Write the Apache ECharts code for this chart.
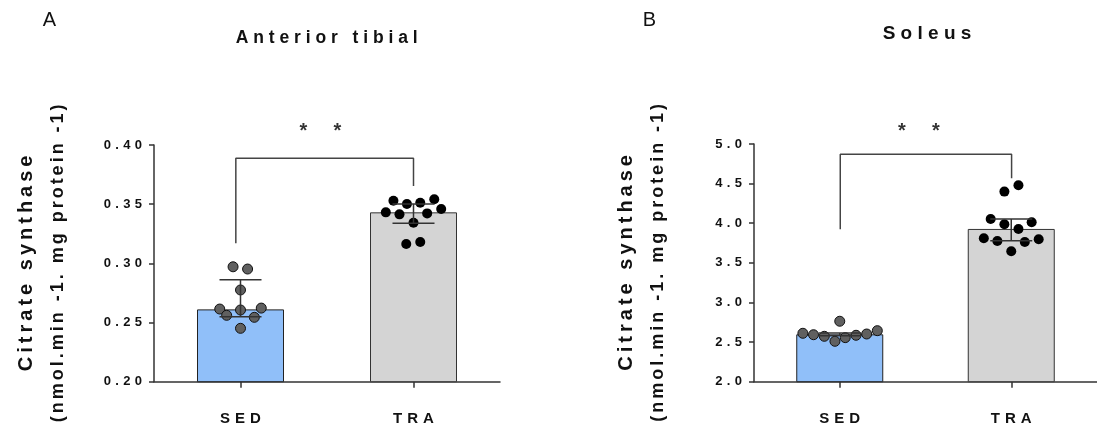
<!DOCTYPE html>
<html>
<head>
<meta charset="utf-8">
<script src="https://cdn.jsdelivr.net/npm/echarts@6/dist/echarts.min.js"></script>
<style>
  html, body { margin: 0; padding: 0; background: #fff; }
  #chart { width: 1097px; height: 432px; }
</style>
</head>
<body>
<div id="chart"></div>
<script>
// groups on the x axis
var groups = ['SED', 'TRA'];

// Anterior tibial (panel A)
var tibMeans = [0.2611, 0.3431];
var tibErrLow = [0.2549, 0.3338];
var tibErrHigh = [0.2862, 0.3501];
var tibSedX = [-0.043, 0.041, 0, -0.12, 0, 0.12, -0.08, 0.08, 0];
var tibSedY = [0.2971, 0.2952, 0.2775, 0.2614, 0.2606, 0.2622, 0.2561, 0.2544, 0.2451];
var tibTraX = [-0.116, -0.038, 0.039, 0.12, -0.16, -0.081, 0.079, 0.16, 0, -0.042, 0.039];
var tibTraY = [0.3529, 0.3501, 0.3512, 0.3541, 0.3431, 0.3414, 0.3422, 0.3459, 0.3343, 0.3163, 0.3181];
var tibBracketX = [-0.027, -0.027, 1, 1];
var tibBracketY = [0.3169, 0.3889, 0.3889, 0.3653];
var tibStarY = 0.411;

// Soleus (panel B)
var solMeans = [2.598, 3.928];
var solErrLow = [2.581, 3.780];
var solErrHigh = [2.615, 4.054];
var solSedX = [0, -0.215, -0.153, -0.09, -0.028, 0.032, 0.095, 0.157, 0.219];
var solSedY = [2.763, 2.611, 2.593, 2.573, 2.510, 2.556, 2.586, 2.602, 2.644];
var solTraX = [-0.04, 0.042, -0.12, -0.04, 0.119, 0.042, -0.16, -0.081, 0.079, 0.16, 0];
var solTraY = [4.399, 4.480, 4.054, 3.987, 4.012, 3.928, 3.811, 3.776, 3.764, 3.798, 3.646];
var solBracketX = [0.003, 0.003, 1.002, 1.002];
var solBracketY = [3.924, 4.871, 4.871, 4.568];
var solStarY = 5.16;

var starX = [0.363, 0.56];

var FONT = 'Liberation Sans, Arial, sans-serif';
var sedColor = '#90bff9';
var traColor = '#d4d4d4';

// GraphPad style letter spacing
function spaced(s, sep) {
    return s.split('').join(sep || ' ');
}

function zip(xs, ys, dx) {
    var out = [];
    for (var i = 0; i < xs.length; i++) {
        out.push([xs[i] + (dx || 0), ys[i]]);
    }
    return out;
}

function renderErr(params, api) {
    var x = api.value(0);
    var lo = api.coord([x, api.value(1)]);
    var hi = api.coord([x, api.value(2)]);
    var hw = 21;
    var st = { stroke: '#333', lineWidth: 1.5 };
    return {
        type: 'group',
        children: [
            { type: 'line', shape: { x1: lo[0], y1: lo[1], x2: hi[0], y2: hi[1] }, style: st },
            { type: 'line', shape: { x1: hi[0] - hw, y1: hi[1], x2: hi[0] + hw, y2: hi[1] }, style: st },
            { type: 'line', shape: { x1: lo[0] - hw, y1: lo[1], x2: lo[0] + hw, y2: lo[1] }, style: st }
        ]
    };
}

function xAxisFor(idx) {
    return {
        type: 'value', gridIndex: idx, min: -0.5, max: 1.5,
        splitLine: { show: false },
        axisLine: { show: true, onZero: false, lineStyle: { color: '#333', width: 1.5 } },
        axisTick: { show: true, customValues: [0, 1], length: 6, lineStyle: { color: '#333', width: 1.5 } },
        axisLabel: {
            customValues: [0, 1], margin: 30,
            fontFamily: FONT, fontWeight: 'bold', fontSize: 15, color: '#111',
            formatter: function (v) { return spaced(groups[Math.round(v)], '\u2004'); }
        }
    };
}

function yAxisFor(idx, min, max, interval, digits) {
    return {
        type: 'value', gridIndex: idx, min: min, max: max, interval: interval,
        splitLine: { show: false },
        axisLine: { show: true, onZero: false, lineStyle: { color: '#333', width: 1.5 } },
        axisTick: { show: true, length: 5, lineStyle: { color: '#333', width: 1.5 } },
        axisLabel: {
            margin: 12, fontFamily: FONT, fontWeight: 'bold', fontSize: 13, color: '#111',
            formatter: function (v) { return spaced(v.toFixed(digits), '\u2004'); }
        },
        name: '{a|' + spaced('Citrate synthase', '\u2009') + '}\n{b|' + spaced('(nmol.min -1. mg protein -1)', '\u2006') + '}',
        nameLocation: 'middle',
        nameRotate: 90,
        nameGap: 80,
        nameTextStyle: {
            fontFamily: FONT, fontWeight: 'bold', color: '#111',
            rich: {
                a: { fontFamily: FONT, fontWeight: 'bold', fontSize: 20, lineHeight: 32, color: '#111' },
                b: { fontFamily: FONT, fontWeight: 'bold', fontSize: 18, lineHeight: 32, color: '#111' }
            }
        }
    };
}

function panelSeries(idx, means, lo, hi, sedX, sedY, traX, traY, brX, brY, starY) {
    return [
        {
            type: 'bar', xAxisIndex: idx, yAxisIndex: idx, barWidth: 87, clip: true, z: 1,
            data: [
                { value: [0, means[0]], itemStyle: { color: sedColor, borderColor: '#222', borderWidth: 1 } },
                { value: [1, means[1]], itemStyle: { color: traColor, borderColor: '#333', borderWidth: 1 } }
            ]
        },
        {
            type: 'scatter', xAxisIndex: idx, yAxisIndex: idx, symbolSize: 10, z: 3,
            itemStyle: { color: '#606060', borderColor: '#111', borderWidth: 1, opacity: 1 },
            data: zip(sedX, sedY, 0)
        },
        {
            type: 'scatter', xAxisIndex: idx, yAxisIndex: idx, symbolSize: 10, z: 3,
            itemStyle: { color: '#000', opacity: 1 },
            data: zip(traX, traY, 1)
        },
        {
            type: 'custom', xAxisIndex: idx, yAxisIndex: idx, z: 4,
            renderItem: renderErr,
            encode: { x: 0, y: [1, 2] },
            data: [[0, lo[0], hi[0]], [1, lo[1], hi[1]]]
        },
        {
            type: 'line', xAxisIndex: idx, yAxisIndex: idx, symbol: 'none', z: 2,
            lineStyle: { color: '#444', width: 1.5 },
            data: zip(brX, brY, 0)
        },
        {
            type: 'scatter', xAxisIndex: idx, yAxisIndex: idx, symbolSize: 0, clip: false, z: 5,
            label: {
                show: true, position: 'inside', formatter: '*',
                fontFamily: FONT, fontWeight: 'bold', fontSize: 20, color: '#000'
            },
            data: starX.map(function (x) { return [x, starY]; })
        }
    ];
}

var chart = echarts.init(document.getElementById('chart'), null, { renderer: 'canvas' });

chart.setOption({
    backgroundColor: '#fff',
    animation: false,
    graphic: [
        { type: 'text', x: 49.5, y: 20, style: { text: 'A', font: '20px ' + FONT, fill: '#111', textAlign: 'center', textVerticalAlign: 'middle' } },
        { type: 'text', x: 649.5, y: 20, style: { text: 'B', font: '20px ' + FONT, fill: '#111', textAlign: 'center', textVerticalAlign: 'middle' } },
        { type: 'text', x: 326.7, y: 38, style: { text: spaced('Anterior tibial'), font: 'bold 17.5px ' + FONT, fill: '#111', textAlign: 'center', textVerticalAlign: 'middle' } },
        { type: 'text', x: 927, y: 34, style: { text: spaced('Soleus'), font: 'bold 19px ' + FONT, fill: '#111', textAlign: 'center', textVerticalAlign: 'middle' } }
    ],
    grid: [
        { left: 154, top: 145, width: 346, height: 236.7 },
        { left: 754, top: 144, width: 346, height: 237.7 }
    ],
    xAxis: [xAxisFor(0), xAxisFor(1)],
    yAxis: [yAxisFor(0, 0.2, 0.4, 0.05, 2), yAxisFor(1, 2, 5, 0.5, 1)],
    series: panelSeries(0, tibMeans, tibErrLow, tibErrHigh, tibSedX, tibSedY, tibTraX, tibTraY, tibBracketX, tibBracketY, tibStarY)
        .concat(panelSeries(1, solMeans, solErrLow, solErrHigh, solSedX, solSedY, solTraX, solTraY, solBracketX, solBracketY, solStarY))
});
</script>
</body>
</html>
